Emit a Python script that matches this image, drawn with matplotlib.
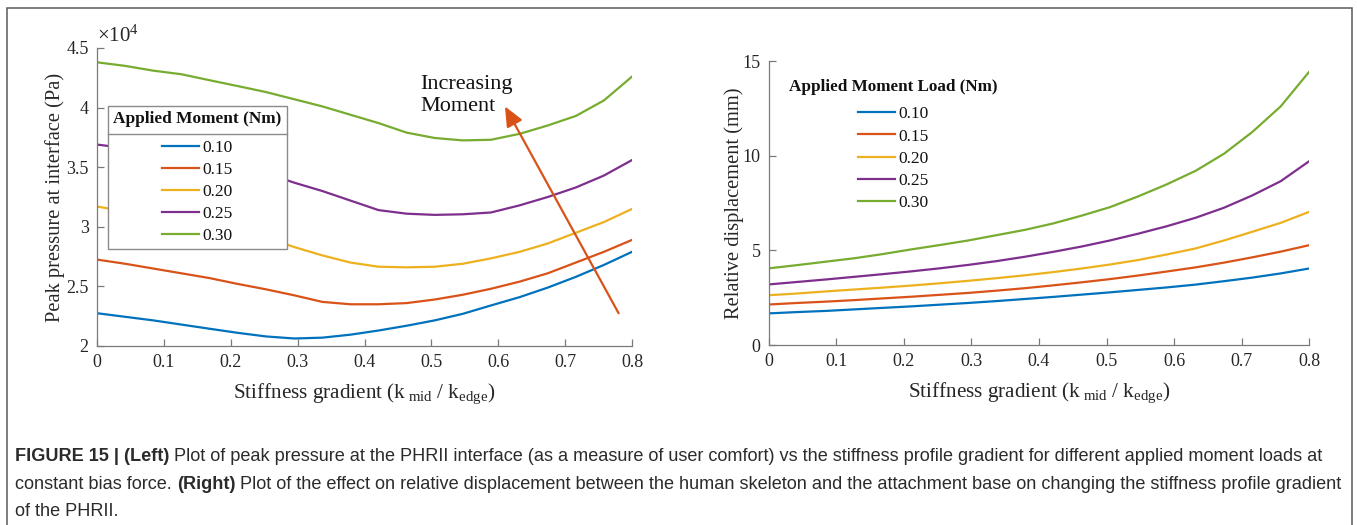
import numpy as np
import matplotlib
matplotlib.use("Agg")
import matplotlib.pyplot as plt
from matplotlib.lines import Line2D
from matplotlib.patches import Rectangle
from matplotlib.ticker import FixedLocator, FuncFormatter

# ---------------- data ----------------
stiffness = [0, 0.042, 0.084, 0.126, 0.168, 0.211, 0.253, 0.295, 0.337, 0.379,
             0.421, 0.463, 0.505, 0.547, 0.589, 0.632, 0.674, 0.716, 0.758, 0.8]
moment_labels = ["0.10", "0.15", "0.20", "0.25", "0.30"]

# peak pressure (x 1e4 Pa)
pressure_010 = [2.275, 2.245, 2.215, 2.18, 2.145, 2.11, 2.08, 2.063, 2.07, 2.095,
                2.13, 2.17, 2.215, 2.27, 2.34, 2.41, 2.49, 2.58, 2.68, 2.79]
pressure_015 = [2.725, 2.69, 2.65, 2.61, 2.57, 2.52, 2.475, 2.425, 2.37, 2.35,
                2.35, 2.36, 2.39, 2.43, 2.48, 2.54, 2.61, 2.70, 2.79, 2.89]
pressure_020 = [3.17, 3.13, 3.09, 3.05, 3.01, 2.96, 2.91, 2.83, 2.76, 2.70,
                2.665, 2.66, 2.665, 2.69, 2.735, 2.79, 2.86, 2.95, 3.04, 3.15]
pressure_025 = [3.69, 3.66, 3.63, 3.60, 3.56, 3.51, 3.45, 3.37, 3.30, 3.22,
                3.14, 3.11, 3.10, 3.105, 3.12, 3.18, 3.25, 3.33, 3.43, 3.56]
pressure_030 = [4.38, 4.35, 4.31, 4.28, 4.23, 4.18, 4.13, 4.07, 4.01, 3.94,
                3.87, 3.79, 3.745, 3.725, 3.73, 3.78, 3.85, 3.93, 4.06, 4.26]
pressure_scale = 1e4

# relative displacement (mm)
disp_010 = [1.67, 1.74, 1.80, 1.88, 1.96, 2.04, 2.13, 2.22, 2.32, 2.43,
            2.54, 2.66, 2.78, 2.91, 3.04, 3.19, 3.37, 3.56, 3.78, 4.04]
disp_015 = [2.14, 2.22, 2.29, 2.37, 2.46, 2.55, 2.65, 2.75, 2.87, 3.00,
            3.15, 3.31, 3.48, 3.67, 3.88, 4.10, 4.35, 4.63, 4.93, 5.27]
disp_020 = [2.63, 2.72, 2.83, 2.93, 3.03, 3.14, 3.26, 3.39, 3.53, 3.68,
            3.85, 4.04, 4.25, 4.49, 4.78, 5.10, 5.52, 5.98, 6.45, 7.03]
disp_025 = [3.20, 3.33, 3.46, 3.60, 3.74, 3.89, 4.05, 4.23, 4.43, 4.66,
            4.92, 5.20, 5.52, 5.88, 6.27, 6.72, 7.25, 7.90, 8.65, 9.70]
disp_030 = [4.05, 4.22, 4.40, 4.58, 4.80, 5.05, 5.28, 5.52, 5.80, 6.08,
            6.42, 6.83, 7.28, 7.85, 8.48, 9.20, 10.10, 11.25, 12.60, 14.42]

x_ticks = [0, 0.1, 0.2, 0.3, 0.4, 0.5, 0.6, 0.7, 0.8]
left_yticks = [2, 2.5, 3, 3.5, 4, 4.5]
right_yticks = [0, 5, 10, 15]

arrow_tail = (0.78, 2.275)
arrow_head = (0.61, 4.01)

colors = ["#0072BD", "#D95319", "#EDB120", "#7E2F8E", "#77AC30"]

# ---------------- style ----------------
plt.rcParams["font.family"] = ["Liberation Serif", "DejaVu Serif"]
plt.rcParams["mathtext.fontset"] = "custom"
plt.rcParams["mathtext.rm"] = "Liberation Serif"
plt.rcParams["mathtext.it"] = "Liberation Serif:italic"
plt.rcParams["mathtext.bf"] = "Liberation Serif:bold"

W, H = 1357, 525
fig = plt.figure(figsize=(W / 100, H / 100), dpi=100)
fig.patch.set_facecolor("white")

AX_COLOR = "#262626"
SPINE_COLOR = "#7a7a7a"
TICK_FS = 13
LABEL_FS = 15.2
LW = 1.6


def style_axes(ax):
    for s in ["top", "right"]:
        ax.spines[s].set_visible(False)
    for s in ["left", "bottom"]:
        ax.spines[s].set_color(SPINE_COLOR)
        ax.spines[s].set_linewidth(0.9)
    ax.tick_params(direction="in", length=5, width=0.9, color=SPINE_COLOR,
                   labelcolor=AX_COLOR, labelsize=TICK_FS, pad=6)
    ax.xaxis.set_major_locator(FixedLocator(x_ticks))
    ax.xaxis.set_major_formatter(FuncFormatter(lambda v, p: f"{v:g}"))
    ax.set_xlim(0, 0.8)


xlabel_text = r"Stiffness gradient (k$_{\mathrm{\ mid}}$ / k$_{\mathrm{edge}}$)"

# ---------------- left axes ----------------
axL = fig.add_axes([97 / W, 1 - 346 / H, 535 / W, 298 / H])
style_axes(axL)
press = [pressure_010, pressure_015, pressure_020, pressure_025, pressure_030]
handlesL = []
for vals, c, lab in zip(press, colors, moment_labels):
    h, = axL.plot(stiffness, np.array(vals) * pressure_scale, color=c, lw=LW,
                  label=lab)
    handlesL.append(h)
axL.set_ylim(2 * pressure_scale, 4.5 * pressure_scale)
axL.yaxis.set_major_locator(FixedLocator([v * pressure_scale for v in left_yticks]))
axL.yaxis.set_major_formatter(FuncFormatter(lambda v, p: f"{v / pressure_scale:g}"))
axL.set_xlabel(xlabel_text, fontsize=LABEL_FS, color=AX_COLOR, labelpad=7)
axL.set_ylabel("Peak pressure at interface (Pa)", fontsize=14.8,
               color=AX_COLOR, labelpad=1)
axL.text(0.0, 1.004, r"$\times10^{4}$", transform=axL.transAxes, fontsize=15,
         color=AX_COLOR, ha="left", va="bottom")

axL.annotate("", xy=(arrow_head[0], arrow_head[1] * pressure_scale),
             xytext=(arrow_tail[0], arrow_tail[1] * pressure_scale),
             arrowprops=dict(arrowstyle="-|>,head_length=0.8,head_width=0.35",
                             color="#D95319", lw=1.6, mutation_scale=15,
                             shrinkA=0, shrinkB=0))
axL.text(0.484, 4.27 * pressure_scale, "Increasing\nMoment", fontsize=16,
         color="#111111", ha="left", va="top", linespacing=1.2)

LEG_KW = dict(fontsize=12.5, handlelength=2.1, handletextpad=0.2,
              labelspacing=0.34, borderaxespad=0)

legL = axL.legend(handles=handlesL, title="Applied Moment (Nm)",
                  loc="upper left", bbox_to_anchor=(108 / W, 1 - 106 / H),
                  bbox_transform=fig.transFigure,
                  title_fontproperties={"weight": "bold", "size": 12.4},
                  borderpad=0.3, fancybox=False, framealpha=1,
                  edgecolor="#8a8a8a", **LEG_KW)
legL.get_frame().set_linewidth(1.0)
legL._legend_box.sep = 9
for t in legL.get_texts():
    t.set_color("#111111")
legL.get_title().set_color("#111111")

# ---------------- right axes ----------------
axR = fig.add_axes([769 / W, 1 - 345 / H, 540 / W, 284 / H])
style_axes(axR)
disp = [disp_010, disp_015, disp_020, disp_025, disp_030]
handlesR = []
for vals, c, lab in zip(disp, colors, moment_labels):
    h, = axR.plot(stiffness, vals, color=c, lw=LW, label=lab)
    handlesR.append(h)
axR.set_ylim(0, 15)
axR.yaxis.set_major_locator(FixedLocator(right_yticks))
axR.yaxis.set_major_formatter(FuncFormatter(lambda v, p: f"{v:g}"))
axR.set_xlabel(xlabel_text, fontsize=LABEL_FS, color=AX_COLOR, labelpad=7)
axR.set_ylabel("Relative displacement (mm)", fontsize=14.8, color=AX_COLOR,
               labelpad=-1)

legR = axR.legend(handles=handlesR, title="Applied Moment Load (Nm)",
                  loc="upper left", bbox_to_anchor=(784 / W, 1 - 74 / H),
                  bbox_transform=fig.transFigure,
                  title_fontproperties={"weight": "bold", "size": 12.3},
                  borderpad=0.3, frameon=False, **LEG_KW)
legR._legend_box.sep = 8
for t in legR.get_texts():
    t.set_color("#111111")
legR.get_title().set_color("#111111")

# ---------------- outer frame ----------------
fig.patches.append(Rectangle((7 / W, -0.05), (1352 - 7) / W, 1.05 - 8 / H,
                             transform=fig.transFigure, fill=False,
                             edgecolor="#5a5a5a", lw=1.1))

# ---------------- caption ----------------
CAP_FS = 13.05
CAP_COLOR = "#2b2b2b"
cap_family = ["Liberation Sans", "DejaVu Sans"]

lines = [
    [("FIGURE 15 | (Left)", True),
     (" Plot of peak pressure at the PHRII interface (as a measure of user comfort) vs the stiffness profile gradient for different applied moment loads at", False)],
    [("constant bias force. ", False), ("(Right)", True),
     (" Plot of the effect on relative displacement between the human skeleton and the attachment base on changing the stiffness profile gradient", False)],
    [("of the PHRII.", False)],
]
baselines = [461, 489, 516]
line_artists = []
for pieces, yb in zip(lines, baselines):
    arts = []
    for txt, bold in pieces:
        a = fig.text(15 / W, 1 - yb / H, txt, fontsize=CAP_FS, color=CAP_COLOR,
                     family=cap_family, weight="bold" if bold else "normal",
                     ha="left", va="baseline")
        arts.append(a)
    line_artists.append(arts)

fig.canvas.draw()
renderer = fig.canvas.get_renderer()
for arts in line_artists:
    xpos = 15
    for a in arts:
        a.set_x(xpos / W)
        bb = a.get_window_extent(renderer)
        xpos = xpos + bb.width

# title separator line for the left legend
fig.canvas.draw()
fb = legL.get_frame().get_window_extent(renderer)
tb = legL.get_title().get_window_extent(renderer)
first = legL.get_texts()[0].get_window_extent(renderer)
ysep = (tb.y0 + first.y1) / 2
fig.add_artist(Line2D([fb.x0 / W, fb.x1 / W], [ysep / H, ysep / H],
                      transform=fig.transFigure, color="#8a8a8a", lw=1.0))

fig.savefig("out.png", dpi=100, facecolor="white")
